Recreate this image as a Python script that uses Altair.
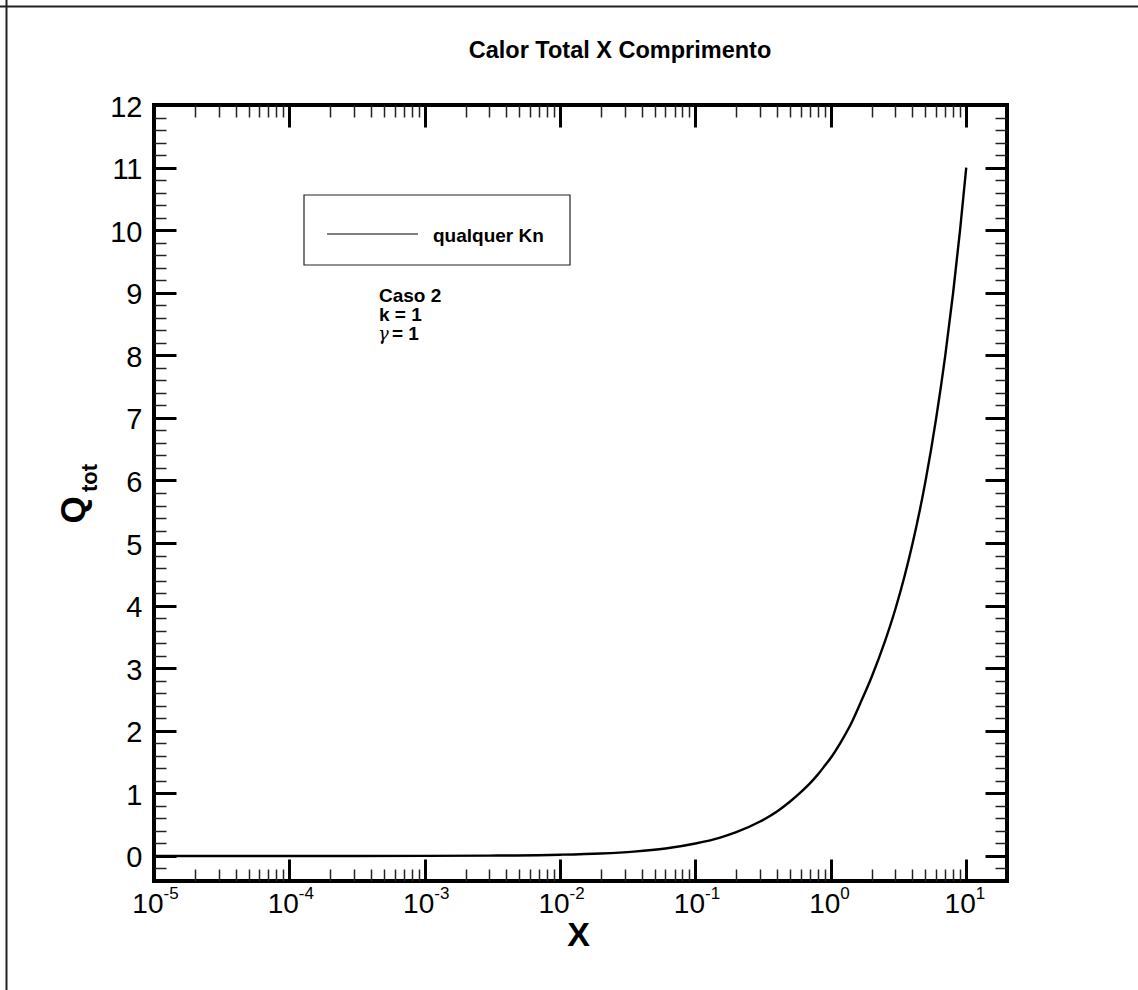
import altair as alt
import pandas as pd

# Total heat Q_tot as a function of the length X (log axis)
x_vals = [1e-5, 1e-4, 1e-3, 3e-3, 0.01, 0.02, 0.035, 0.06, 0.1, 0.15, 0.2, 0.3,
          0.4, 0.5, 0.6, 0.7, 0.8, 0.9, 1.0, 1.2, 1.4, 1.65, 2.0, 2.5, 3.0, 3.5,
          4.0, 5.0, 6.0, 7.0, 8.0, 9.0, 10.0]
q_vals = [0.0, 0.0002, 0.002, 0.006, 0.02, 0.04, 0.07, 0.12, 0.2, 0.29, 0.38, 0.55,
          0.71, 0.87, 1.02, 1.16, 1.30, 1.44, 1.57, 1.84, 2.1, 2.44, 2.86, 3.42, 3.95, 4.47,
          4.98, 5.99, 7.0, 8.0, 9.0, 10.0, 11.0]

decades = [1e-5, 1e-4, 1e-3, 1e-2, 1e-1, 1e0, 1e1]
minor_x = [m * d for d in decades[:-1] for m in range(2, 10)]
major_y = list(range(0, 13))
minor_y = [round(0.2 * i, 1) for i in range(-1, 60) if i % 5 != 0]

title_text = "Calor Total X Comprimento"
legend_label = "qualquer Kn"
case_lines = "Caso 2\nk = 1"
gamma_symbol = "γ"
gamma_value = "= 1"

FONT = "Liberation Sans"
W, H = 853, 776

df = pd.DataFrame({"X": x_vals, "Q": q_vals})
one = pd.DataFrame({"a": [0]})

xscale = alt.Scale(type="log", domain=[1e-5, 20], nice=False)
yscale = alt.Scale(domain=[-0.4, 12], nice=False, zero=False)


def tick_axis(orient, values, length, width, color="black"):
    # inward-pointing ticks: pull the axis into the plot by its tick length
    return alt.Axis(orient=orient, values=values, offset=-length, tickSize=length,
                    tickWidth=width, tickColor=color, domain=False, labels=False,
                    grid=False, title=None)


base = alt.Chart(df)

curve = base.mark_line(color="black", strokeWidth=2.4, interpolate="monotone").encode(
    x=alt.X("X:Q", scale=xscale, axis=alt.Axis(
        orient="bottom", values=decades, labelExpr="'10'", ticks=False, tickSize=0,
        domain=False, grid=False, labelFont=FONT, labelFontSize=28, labelColor="black",
        labelAlign="right", labelOffset=9, labelBaseline="alphabetic", labelPadding=31,
        labelFlush=False, labelOverlap=False, labelBound=False,
        title="X", titleFont=FONT, titleFontSize=34, titleFontWeight="bold",
        titleColor="black", titleX=424, titleY=64, titleBaseline="alphabetic",
        titleAlign="center")),
    y=alt.Y("Q:Q", scale=yscale, axis=alt.Axis(
        orient="left", values=major_y, ticks=False, tickSize=0, domain=False, grid=False,
        labelFont=FONT, labelFontSize=29, labelColor="black", labelPadding=12,
        labelOffset=2, labelFlush=False, labelOverlap=False, labelBound=False,
        title=None)),
)

exponents = base.mark_line(opacity=0).encode(
    x=alt.X("X:Q", scale=xscale, axis=alt.Axis(
        orient="bottom", values=decades,
        labelExpr="'' + round(log(datum.value) / LN10)", ticks=False, tickSize=0,
        domain=False, grid=False, labelFont=FONT, labelFontSize=17, labelColor="black",
        labelAlign="left", labelOffset=9, labelBaseline="alphabetic", labelPadding=17,
        labelFlush=False, labelOverlap=False, labelBound=False, title=None)),
    y=alt.Y("Q:Q", scale=yscale, axis=tick_axis("left", major_y, 22, 3)),
)

ticks_a = base.mark_line(opacity=0).encode(
    x=alt.X("X:Q", scale=xscale, axis=tick_axis("bottom", decades, 22, 3)),
    y=alt.Y("Q:Q", scale=yscale, axis=tick_axis("left", minor_y, 12, 1.5, "#222")),
)
ticks_b = base.mark_line(opacity=0).encode(
    x=alt.X("X:Q", scale=xscale, axis=tick_axis("bottom", minor_x, 12, 1.5, "#222")),
    y=alt.Y("Q:Q", scale=yscale, axis=tick_axis("right", major_y, 22, 3)),
)
ticks_c = base.mark_line(opacity=0).encode(
    x=alt.X("X:Q", scale=xscale, axis=tick_axis("top", decades, 22, 3)),
    y=alt.Y("Q:Q", scale=yscale, axis=tick_axis("right", minor_y, 12, 1.5, "#222")),
)
ticks_d = base.mark_line(opacity=0).encode(
    x=alt.X("X:Q", scale=xscale, axis=tick_axis("top", minor_x, 12, 1.5, "#222")),
    y=alt.Y("Q:Q", scale=yscale, axis=None),
)

ann = alt.Chart(one)

title = ann.mark_text(text=title_text, font=FONT, fontSize=23.5, fontWeight="bold",
                      align="center", baseline="alphabetic", color="black").encode(
    x=alt.value(466), y=alt.value(-47))

q_label = ann.mark_text(text="Q", font=FONT, fontSize=35, fontWeight="bold", angle=270,
                        align="center", baseline="alphabetic", color="black").encode(
    x=alt.value(-69), y=alt.value(405))
q_sub = ann.mark_text(text="tot", font=FONT, fontSize=22, fontWeight="bold", angle=270,
                      align="left", baseline="alphabetic", color="black").encode(
    x=alt.value(-57.5), y=alt.value(387))

legend_box = ann.mark_rect(fill="white", stroke="#222", strokeWidth=1.2).encode(
    x=alt.value(150), x2=alt.value(416), y=alt.value(90), y2=alt.value(160))
legend_line = ann.mark_rule(color="black", strokeWidth=1.2).encode(
    x=alt.value(173), x2=alt.value(264), y=alt.value(129))
legend_text = ann.mark_text(text=legend_label, font=FONT, fontSize=19, fontWeight="bold",
                            align="left", baseline="alphabetic", color="black").encode(
    x=alt.value(279), y=alt.value(137))

note = ann.mark_text(text=case_lines, lineBreak="\n", lineHeight=19, font=FONT,
                     fontSize=19, fontWeight="bold", align="left", baseline="alphabetic",
                     color="black").encode(x=alt.value(225), y=alt.value(197))
note_gamma = ann.mark_text(text=gamma_symbol, font="DejaVu Serif", fontSize=18,
                           fontStyle="italic", align="left", baseline="alphabetic",
                           color="black").encode(x=alt.value(224), y=alt.value(235))
note_gamma_val = ann.mark_text(text=gamma_value, font=FONT, fontSize=19, fontWeight="bold",
                               align="left", baseline="alphabetic", color="black").encode(
    x=alt.value(238), y=alt.value(235))

# page frame: top and left edges
frame_top = ann.mark_rule(color="#222", strokeWidth=2).encode(
    x=alt.value(-154), x2=alt.value(984), y=alt.value(-98.5))
frame_left = ann.mark_rule(color="#222", strokeWidth=2).encode(
    x=alt.value(-147.5), y=alt.value(-105), y2=alt.value(885))

chart = alt.layer(
    exponents, ticks_a, ticks_b, ticks_c, ticks_d, curve,
    legend_box, legend_line, legend_text, note, note_gamma, note_gamma_val,
    title, q_label, q_sub, frame_top, frame_left,
).resolve_axis(x="independent", y="independent").properties(
    width=W, height=H, autosize="none",
    padding={"left": 154, "top": 105, "right": 131, "bottom": 109},
).configure(background="white").configure_view(stroke="black", strokeWidth=4)

chart.save("out.html", embed_options={"renderer": "svg", "actions": False})
